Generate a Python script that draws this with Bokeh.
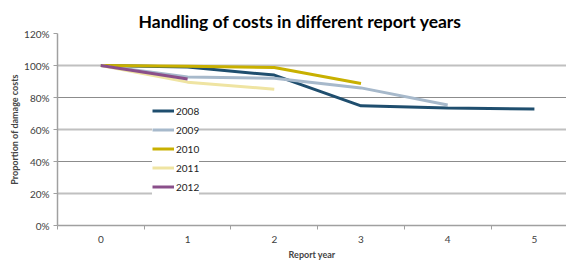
from bokeh.plotting import figure
from bokeh.models import (Range1d, FixedTicker, PrintfTickFormatter, Grid, Legend,
                          LegendItem)
from bokeh.embed import file_html
from bokeh.resources import INLINE

# ---- data ----
report_years = [0, 1, 2, 3, 4, 5]
tick_labels = ["0", "1", "2", "3", "4", "5"]
series_names = ["2008", "2009", "2010", "2011", "2012"]
v2008 = [100, 99, 94, 74.8, 73.5, 72.8]
v2009 = [100, 92.8, 92, 86, 75.3]
v2010 = [100, 99.5, 98.8, 88.8]
v2011 = [100, 89.6, 85.2]
v2012 = [100, 91.6]
y_ticks = [0, 20, 40, 60, 80, 100, 120]

colors = ["#1f4e6e", "#a7b9cb", "#c8b000", "#efe4a2", "#8a4f8a"]
series = [v2008, v2009, v2010, v2011, v2012]

FONT = "Lato"

p = figure(width=566, height=262, output_backend="svg", toolbar_location=None,
           x_range=Range1d(-0.5, 5.37), y_range=Range1d(0, 120),
           title="Handling of costs in different report years")
p.min_border_left = 57
p.min_border_right = 0
p.min_border_top = 33
p.min_border_bottom = 35
p.outline_line_color = None
p.background_fill_color = "white"
p.border_fill_color = "white"

p.title.align = "left"
p.title.offset = 81
p.title.standoff = 4
p.title.text_font = FONT
p.title.text_font_style = "bold"
p.title.text_font_size = "17.5px"
p.title.text_color = "#000000"

# gridlines (alternating styles)
p.xgrid.visible = False
p.ygrid.ticker = FixedTicker(ticks=[20, 60, 100])
p.ygrid.grid_line_color = "#c0c0c0"
p.ygrid.grid_line_width = 2
g2 = Grid(dimension=1, ticker=FixedTicker(ticks=[40, 80, 120]),
          grid_line_color="#8c8c8c", grid_line_width=1)
p.add_layout(g2)

# axes
xa = p.xaxis[0]
xa.ticker = FixedTicker(ticks=report_years,
                        minor_ticks=[-0.5, 0.5, 1.5, 2.5, 3.5, 4.5, 5.5])
xa.major_label_overrides = {i: t for i, t in zip(report_years, tick_labels)}
xa.major_tick_line_color = None
xa.minor_tick_line_color = "#a0a0a0"
xa.minor_tick_out = 4
xa.minor_tick_in = 0
xa.axis_line_color = "#a0a0a0"
xa.axis_line_width = 1.5
xa.axis_label = "Report year"
xa.axis_label_text_font = FONT
xa.axis_label_text_font_style = "bold"
xa.axis_label_text_font_size = "9px"
xa.axis_label_standoff = 3
xa.major_label_text_font = FONT
xa.major_label_text_font_size = "10px"
xa.major_label_text_color = "#404040"
xa.major_label_standoff = 4

ya = p.yaxis[0]
ya.ticker = FixedTicker(ticks=y_ticks)
ya.formatter = PrintfTickFormatter(format="%d%%")
ya.minor_tick_line_color = None
ya.major_tick_line_color = "#a0a0a0"
ya.major_tick_out = 4
ya.major_tick_in = 0
ya.axis_line_color = "#a0a0a0"
ya.axis_line_width = 1.5
ya.axis_label = "Proportion of damage costs"
ya.axis_label_text_font = FONT
ya.axis_label_text_font_style = "bold"
ya.axis_label_text_font_size = "9px"
ya.axis_label_standoff = 1
ya.major_label_text_font = FONT
ya.major_label_text_font_size = "10px"
ya.major_label_text_color = "#404040"
ya.major_label_standoff = 4

items = []
for name, vals, c in zip(series_names, series, colors):
    r = p.line(report_years[:len(vals)], vals, line_color=c, line_width=3)
    items.append(LegendItem(label=name, renderers=[r]))

legend = Legend(items=items, location=(95, 29), orientation="vertical",
                background_fill_color="white", background_fill_alpha=1,
                border_line_color=None, padding=2, margin=0, spacing=0,
                label_height=19, glyph_height=19, glyph_width=22,
                label_standoff=2, label_text_font=FONT,
                label_text_font_size="10px", label_text_color="#222222")
p.add_layout(legend, "center")

open("out.html", "w").write(file_html(p, INLINE))
